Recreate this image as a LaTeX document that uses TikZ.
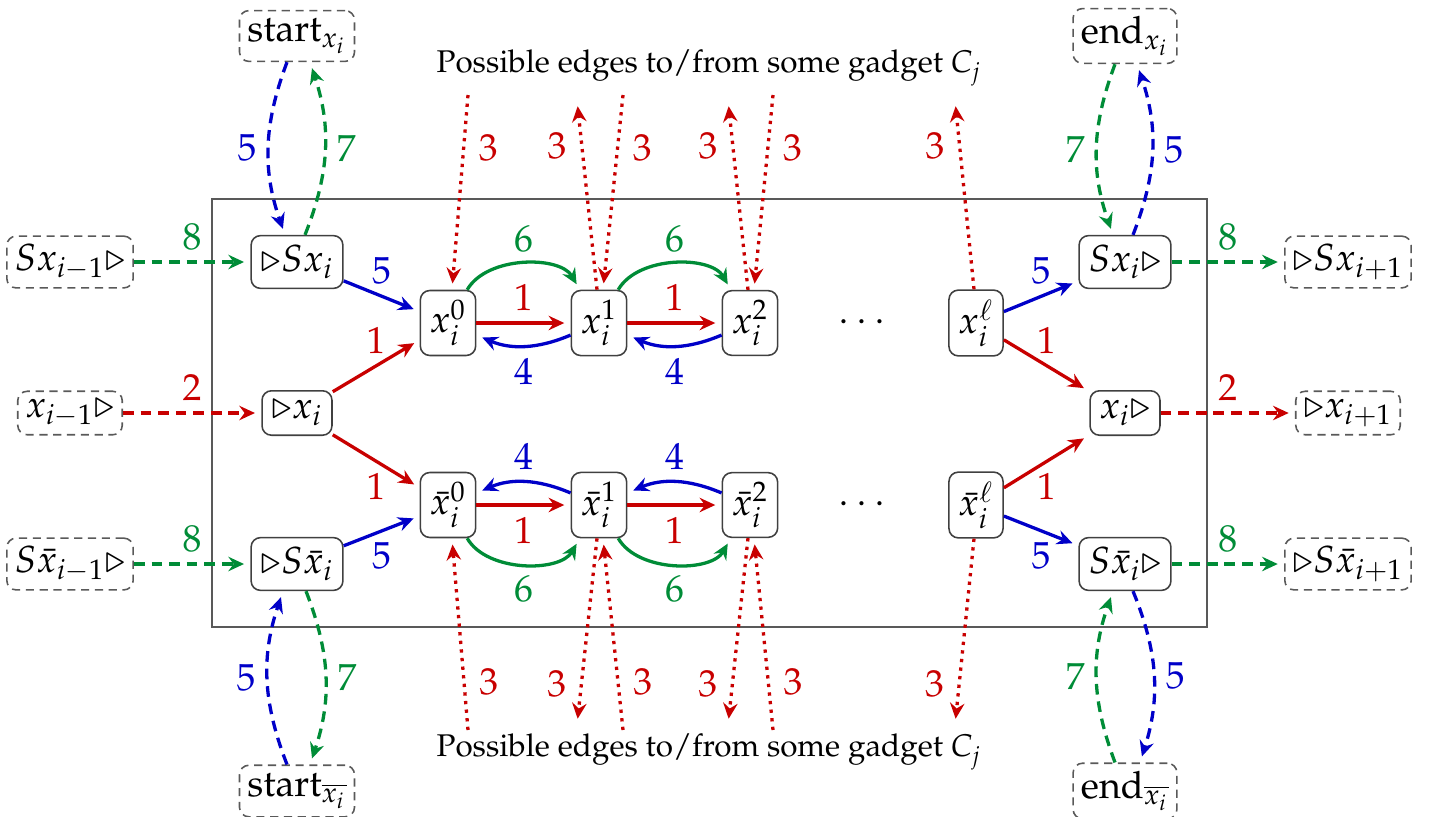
\documentclass[tikz,border=0pt]{standalone}
\IfFileExists{mathpazo.sty}{\usepackage[T1]{fontenc}\usepackage{mathpazo}}{}
\usetikzlibrary{arrows.meta,calc}
\definecolor{cR}{RGB}{200,0,0}
\definecolor{cB}{RGB}{0,0,200}
\definecolor{cG}{RGB}{0,140,55}
\begin{document}
\begin{tikzpicture}[x=0.0112cm,y=0.0112cm,
  >={Stealth[length=5pt,width=4.6pt,inset=1.7pt]},
  gnode/.style={draw=black!75, rounded corners=3pt, inner sep=3pt, line width=0.5pt, font=\large},
  onode/.style={draw=black!65, dash pattern=on 2.6pt off 1.8pt, rounded corners=3pt, inner sep=2.5pt, line width=0.5pt, font=\large},
  arr/.style={->, line width=1.05pt, shorten >=2pt, font=\large},
  solR/.style={arr, color=cR},
  solB/.style={arr, color=cB},
  solG/.style={arr, color=cG},
  dashR/.style={arr, color=cR, dash pattern=on 3.4pt off 2.2pt},
  dashG/.style={arr, color=cG, dash pattern=on 3.4pt off 2.2pt},
  dashB/.style={arr, color=cB, dash pattern=on 3.4pt off 2.2pt},
  dotR/.style={arr, color=cR, dash pattern=on 1.05pt off 1.7pt},
  frame/.style={draw=black!65, line width=0.5pt},
]
\useasboundingbox (0,0) rectangle (1432,-816);
\draw[frame] (212,-199) rectangle (1207,-627);

% outer dashed nodes
\node[onode] (startX) at (297,-36) {$\mathrm{start}_{x_i}$};
\node[onode] (endX) at (1125,-36) {$\mathrm{end}_{x_i}$};
\node[onode] (startbX) at (297,-791) {$\mathrm{start}_{\overline{x_i}}$};
\node[onode] (endbX) at (1125,-791) {$\mathrm{end}_{\overline{x_i}}$};
\node[onode] (SXp) at (70,-262) {$Sx_{i-1}\triangleright$};
\node[onode] (Xp) at (70,-413) {$x_{i-1}\triangleright$};
\node[onode] (SbXp) at (70,-564) {$S\bar{x}_{i-1}\triangleright$};
\node[onode] (SXn) at (1348,-262) {$\triangleright Sx_{i+1}$};
\node[onode] (Xn) at (1348,-413) {$\triangleright x_{i+1}$};
\node[onode] (SbXn) at (1348,-564) {$\triangleright S\bar{x}_{i+1}$};

% gadget nodes
\node[gnode] (SXi) at (297,-262) {$\triangleright Sx_i$};
\node[gnode] (Xi) at (297,-413) {$\triangleright x_i$};
\node[gnode] (SbXi) at (297,-564) {$\triangleright S\bar{x}_i$};
\node[gnode] (SXo) at (1125,-262) {$Sx_i\triangleright$};
\node[gnode] (Xo) at (1125,-413) {$x_i\triangleright$};
\node[gnode] (SbXo) at (1125,-564) {$S\bar{x}_i\triangleright$};

\node[gnode] (x0) at (448,-323) {$x_i^0$};
\node[gnode] (x1) at (599,-323) {$x_i^1$};
\node[gnode] (x2) at (750,-323) {$x_i^2$};
\node[font=\large] (d1) at (862,-323) {$\cdots$};
\node[gnode] (xl) at (976,-323) {$x_i^\ell$};
\node[gnode] (bx0) at (448,-505) {$\bar{x}_i^0$};
\node[gnode] (bx1) at (599,-505) {$\bar{x}_i^1$};
\node[gnode] (bx2) at (750,-505) {$\bar{x}_i^2$};
\node[font=\large] (d2) at (862,-505) {$\cdots$};
\node[gnode] (bxl) at (976,-505) {$\bar{x}_i^\ell$};

\node (ptop) at (709,-68) {Possible edges to/from some gadget $C_j$};
\node (pbot) at (709,-752) {Possible edges to/from some gadget $C_j$};

% free ends of dotted edges
\coordinate (t0in) at (468,-95);
\coordinate (t1out) at (577,-100);
\coordinate (t1in) at (623,-95);
\coordinate (t2out) at (728,-100);
\coordinate (t2in) at (773,-95);
\coordinate (tlout) at (955,-100);
\coordinate (b0in) at (468,-730);
\coordinate (b1out) at (577,-725);
\coordinate (b1in) at (623,-730);
\coordinate (b2out) at (728,-725);
\coordinate (b2in) at (773,-730);
\coordinate (blout) at (955,-725);

% dotted edges (3)
\draw[dotR] (t0in) -- node[pos=0.27,right=1pt] {$3$} ($(x0.north)+(4,0)$);
\draw[dotR] ($(x1.north)+(-2,0)$) -- node[pos=0.76,left=1pt] {$3$} (t1out);
\draw[dotR] (t1in) -- node[pos=0.27,right=1pt] {$3$} ($(x1.north)+(4,0)$);
\draw[dotR] ($(x2.north)+(-2,0)$) -- node[pos=0.76,left=1pt] {$3$} (t2out);
\draw[dotR] (t2in) -- node[pos=0.27,right=1pt] {$3$} ($(x2.north)+(4,0)$);
\draw[dotR] ($(xl.north)+(-2,0)$) -- node[pos=0.76,left=1pt] {$3$} (tlout);
\draw[dotR] (b0in) -- node[pos=0.25,right=1pt] {$3$} ($(bx0.south)+(4,0)$);
\draw[dotR] ($(bx1.south)+(-2,0)$) -- node[pos=0.78,left=1pt] {$3$} (b1out);
\draw[dotR] (b1in) -- node[pos=0.25,right=1pt] {$3$} ($(bx1.south)+(4,0)$);
\draw[dotR] ($(bx2.south)+(-2,0)$) -- node[pos=0.78,left=1pt] {$3$} (b2out);
\draw[dotR] (b2in) -- node[pos=0.25,right=1pt] {$3$} ($(bx2.south)+(4,0)$);
\draw[dotR] ($(bxl.south)+(-2,0)$) -- node[pos=0.78,left=1pt] {$3$} (blout);

% horizontal dashed edges
\draw[dashG] (SXp) -- node[above] {$8$} (SXi);
\draw[dashR] (Xp) -- node[above] {$2$} (Xi);
\draw[dashG] (SbXp) -- node[above] {$8$} (SbXi);
\draw[dashG] (SXo) -- node[above] {$8$} (SXn);
\draw[dashR] (Xo) -- node[above] {$2$} (Xn);
\draw[dashG] (SbXo) -- node[above] {$8$} (SbXn);

% vertical dashed edges
\draw[dashB] ($(startX.south)+(-10,0)$) to[bend right=20] node[left] {$5$} ($(SXi.north)+(-12,0)$);
\draw[dashG] ($(SXi.north)+(8,0)$) to[bend right=20] node[right] {$7$} ($(startX.south)+(13,0)$);
\draw[dashB] ($(startbX.north)+(-10,0)$) to[bend left=20] node[left] {$5$} ($(SbXi.south)+(-14,0)$);
\draw[dashG] ($(SbXi.south)+(9,0)$) to[bend left=20] node[right] {$7$} ($(startbX.north)+(13,0)$);
\draw[dashG] ($(endX.south)+(-10,0)$) to[bend right=20] node[left] {$7$} ($(SXo.north)+(-12,0)$);
\draw[dashB] ($(SXo.north)+(8,0)$) to[bend right=20] node[right] {$5$} ($(endX.south)+(12,0)$);
\draw[dashG] ($(endbX.north)+(-10,0)$) to[bend left=20] node[left] {$7$} ($(SbXo.south)+(-12,0)$);
\draw[dashB] ($(SbXo.south)+(8,0)$) to[bend left=20] node[right] {$5$} ($(endbX.north)+(15,0)$);

% entry edges
\draw[solB] (SXi) -- node[above] {$5$} (x0);
\draw[solR] (Xi) -- node[above] {$1$} (x0);
\draw[solR] (Xi) -- node[below] {$1$} (bx0);
\draw[solB] (SbXi) -- node[below] {$5$} (bx0);
% exit edges
\draw[solB] (xl) -- node[above] {$5$} (SXo);
\draw[solR] (xl) -- node[above] {$1$} (Xo);
\draw[solR] (bxl) -- node[below] {$1$} (Xo);
\draw[solB] (bxl) -- node[below] {$5$} (SbXo);

% chain x
\draw[solR] (x0) -- node[above] {$1$} (x1);
\draw[solR] (x1) -- node[above] {$1$} (x2);
\draw[solB] (x1) to[bend left=23] node[below] {$4$} (x0);
\draw[solB] (x2) to[bend left=23] node[below] {$4$} (x1);
\draw[solG] (x0) to[bend left=60,looseness=0.9] node[above] {$6$} (x1);
\draw[solG] (x1) to[bend left=60,looseness=0.9] node[above] {$6$} (x2);
% chain bar x
\draw[solR] (bx0) -- node[below] {$1$} (bx1);
\draw[solR] (bx1) -- node[below] {$1$} (bx2);
\draw[solB] (bx1) to[bend right=23] node[above] {$4$} (bx0);
\draw[solB] (bx2) to[bend right=23] node[above] {$4$} (bx1);
\draw[solG] (bx0) to[bend right=60,looseness=0.9] node[below] {$6$} (bx1);
\draw[solG] (bx1) to[bend right=60,looseness=0.9] node[below] {$6$} (bx2);
\end{tikzpicture}
\end{document}
